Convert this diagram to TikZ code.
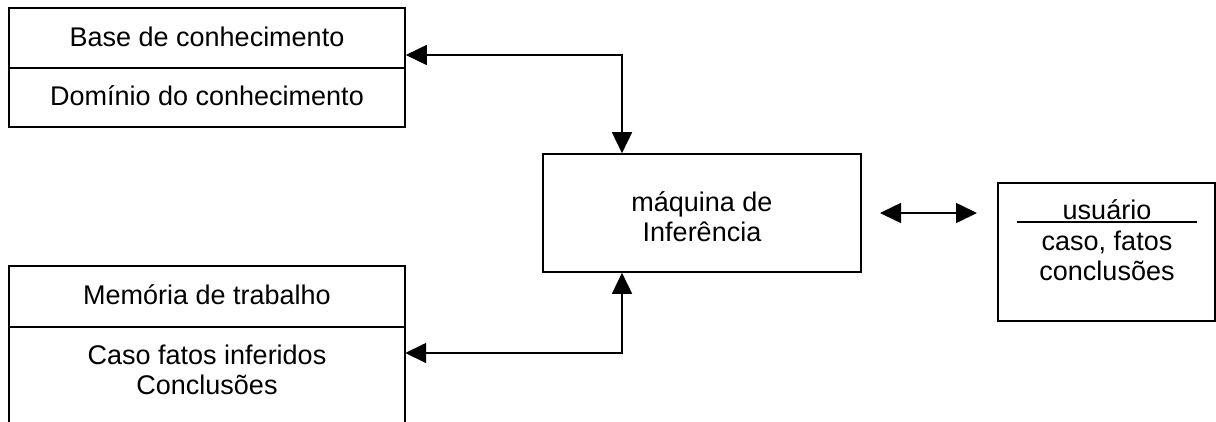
\documentclass[tikz,border=0pt]{standalone}
\usepackage{fontspec}
\setmainfont{Liberation Sans}
\usetikzlibrary{arrows.meta}
\begin{document}
\begin{tikzpicture}[x=1pt,y=-1pt,
  box/.style={draw,line width=1.6pt,inner sep=0pt},
  lbl/.style={inner sep=0pt,align=center,font=\fontsize{27}{30}\selectfont},
  conn/.style={line width=1.6pt,{Triangle[length=21pt,width=20pt]}-{Triangle[length=21pt,width=20pt]}}]
\useasboundingbox (0,0) rectangle (1216,421);
% Base de conhecimento
\node[box,minimum width=396pt,minimum height=119pt] (kb) at (207,67.5) {};
\draw[line width=1.6pt] (kb.west |- 0,68) -- (kb.east |- 0,68);
\node[lbl] (kbt) at (207,37) {Base de conhecimento};
\node[lbl] (kbd) at (207,96) {Domínio do conhecimento};
% Memória de trabalho (open at the bottom)
\node[inner sep=0pt,minimum width=396pt,minimum height=160pt] (mem) at (207,346) {};
\draw[line width=1.6pt] (mem.south west) -- (mem.north west) -- (mem.north east) -- (mem.south east);
\draw[line width=1.6pt] (mem.west |- 0,327) -- (mem.east |- 0,327);
\node[lbl] (memt) at (207,295) {Memória de trabalho};
\node[lbl] (memd) at (207,370) {Caso fatos inferidos\\Conclusões};
% máquina de Inferência
\node[box,minimum width=318pt,minimum height=118pt] (maq) at (702,213) {};
\node[lbl] (maqt) at (702,217) {máquina de\\Inferência};
% usuário
\node[box,minimum width=217pt,minimum height=138pt] (usr) at (1106.5,252) {};
\node[lbl] (usrt) at (1107,210) {usuário};
\draw[line width=1.6pt] (1017,222) -- (1197,222);
\node[lbl] (usrd) at (1107,256) {caso, fatos\\conclusões};
% connectors
\coordinate (c1) at (622,55);
\coordinate (c2) at (622,353);
\draw[conn] (kb.east |- c1) -- (c1) -- (c1 |- maq.north);
\draw[conn] (mem.east |- c2) -- (c2) -- (c2 |- maq.south);
\coordinate (a1) at (880,213);
\coordinate (a2) at (977,213);
\draw[conn] (a1) -- (a2);
\end{tikzpicture}
\end{document}
